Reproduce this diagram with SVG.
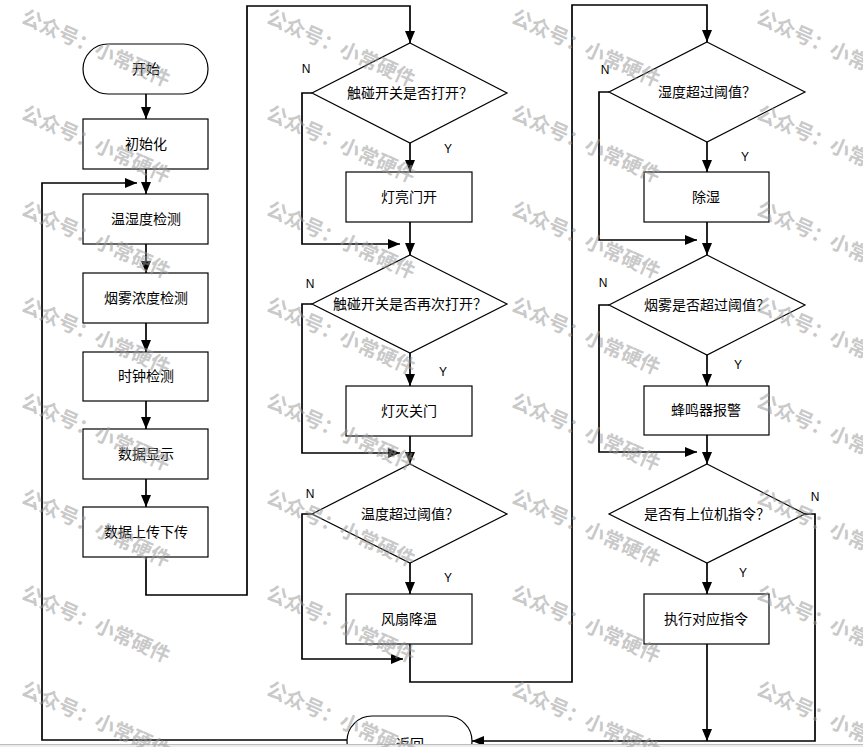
<svg xmlns="http://www.w3.org/2000/svg" width="863" height="747" viewBox="0 0 863 747">
<defs>
<marker id="ah" markerUnits="userSpaceOnUse" markerWidth="12" markerHeight="10" refX="12" refY="5" orient="auto">
<path d="M0,0 L12,5 L0,10 z" fill="#000"/>
</marker>
<style>
.box{fill:#fff;stroke:#000;stroke-width:1.2}
.t{font-family:"Noto Sans CJK SC","Liberation Sans",sans-serif;font-size:14px;fill:#000;text-anchor:middle}
.lbl{font-family:"Liberation Sans",Arial,sans-serif;font-size:12px;fill:#000;text-anchor:middle}
.c{fill:none;stroke:#000;stroke-width:1.7}
.a{marker-end:url(#ah)}
.wm{font-family:"Noto Sans CJK SC",sans-serif;font-size:20px;font-weight:bold;fill:#9a9a9a;fill-opacity:0.55}
</style>
</defs>
<rect width="863" height="747" fill="#fff"/>

<g id="connectors">
<path class="c a" d="M146,94 V119"/>
<path class="c a" d="M146,169 V194"/>
<path class="c a" d="M146,244 V273"/>
<path class="c a" d="M146,323 V352"/>
<path class="c a" d="M146,401 V429"/>
<path class="c a" d="M146,479 V507"/>
<path class="c a" d="M146,557 V595 H247 V6 H410 V43"/>
<path class="c a" d="M410,143 V172"/>
<path class="c a" d="M312,93 H302 V244 H400"/>
<path class="c a" d="M410,222 V255"/>
<path class="c a" d="M410,353 V386"/>
<path class="c a" d="M312,304 H302 V453 H400"/>
<path class="c a" d="M410,436 V464"/>
<path class="c a" d="M410,563 V594"/>
<path class="c a" d="M312,514 H302 V659 H403"/>
<path class="c a" d="M410,644 V682 H572 V5 H707 V42"/>
<path class="c a" d="M707,142 V172"/>
<path class="c a" d="M609,92 H599 V240 H697"/>
<path class="c a" d="M707,222 V255"/>
<path class="c a" d="M707,355 V386"/>
<path class="c a" d="M609,305 H599 V452 H697"/>
<path class="c a" d="M707,435 V464"/>
<path class="c a" d="M707,563 V594"/>
<path class="c a" d="M805,514 H815 V741 H472"/>
<path class="c a" d="M707,644 V741"/>
<path class="c a" d="M347,740 H42 V183 H137"/>
</g>

<g id="start"><rect class="box" x="83" y="44" width="125" height="50" rx="25"/><text class="t" x="146" y="74">开始</text></g>
<g id="init"><rect class="box" x="83" y="119" width="125" height="50"/><text class="t" x="146" y="149">初始化</text></g>
<g id="temphum"><rect class="box" x="83" y="194" width="125" height="50"/><text class="t" x="146" y="224">温湿度检测</text></g>
<g id="smoke"><rect class="box" x="83" y="273" width="125" height="50"/><text class="t" x="146" y="303">烟雾浓度检测</text></g>
<g id="clock"><rect class="box" x="83" y="352" width="125" height="49"/><text class="t" x="146" y="381">时钟检测</text></g>
<g id="display"><rect class="box" x="83" y="429" width="125" height="50"/><text class="t" x="146" y="459">数据显示</text></g>
<g id="upload"><rect class="box" x="83" y="507" width="125" height="50"/><text class="t" x="146" y="537">数据上传下传</text></g>

<g id="d1"><path class="box" d="M410,43 L507,93 L410,143 L312,93 z"/><text class="t" x="410" y="98">触碰开关是否打开？</text></g>
<g id="lighton"><rect class="box" x="346" y="172" width="126" height="50"/><text class="t" x="409" y="202">灯亮门开</text></g>
<g id="d2"><path class="box" d="M410,255 L507,304 L410,353 L312,304 z"/><text class="t" x="410" y="309">触碰开关是否再次打开？</text></g>
<g id="lightoff"><rect class="box" x="346" y="386" width="126" height="50"/><text class="t" x="409" y="416">灯灭关门</text></g>
<g id="d3"><path class="box" d="M410,464 L507,514 L410,563 L312,514 z"/><text class="t" x="410" y="519">温度超过阈值？</text></g>
<g id="fan"><rect class="box" x="346" y="594" width="126" height="50"/><text class="t" x="409" y="624">风扇降温</text></g>

<g id="d4"><path class="box" d="M707,42 L805,92 L707,142 L609,92 z"/><text class="t" x="707" y="97">湿度超过阈值？</text></g>
<g id="dehum"><rect class="box" x="644" y="172" width="125" height="50"/><text class="t" x="706" y="202">除湿</text></g>
<g id="d5"><path class="box" d="M707,255 L805,305 L707,355 L609,305 z"/><text class="t" x="707" y="310">烟雾是否超过阈值？</text></g>
<g id="buzzer"><rect class="box" x="644" y="386" width="125" height="49"/><text class="t" x="706" y="415">蜂鸣器报警</text></g>
<g id="d6"><path class="box" d="M707,464 L805,514 L707,563 L609,514 z"/><text class="t" x="707" y="519">是否有上位机指令？</text></g>
<g id="exec"><rect class="box" x="644" y="594" width="125" height="50"/><text class="t" x="706" y="624">执行对应指令</text></g>

<g id="return"><rect class="box" x="347" y="716" width="125" height="50" rx="25"/><text class="t" x="410" y="749">返回</text></g>

<g id="labels">
<text class="lbl" x="306" y="73">N</text>
<text class="lbl" x="448" y="153">Y</text>
<text class="lbl" x="310" y="288">N</text>
<text class="lbl" x="443" y="376">Y</text>
<text class="lbl" x="310" y="498">N</text>
<text class="lbl" x="448" y="582">Y</text>
<text class="lbl" x="605" y="74">N</text>
<text class="lbl" x="745" y="161">Y</text>
<text class="lbl" x="603" y="287">N</text>
<text class="lbl" x="738" y="369">Y</text>
<text class="lbl" x="815" y="501">N</text>
<text class="lbl" x="743" y="577">Y</text>
</g>

<rect x="0" y="744" width="863" height="3" fill="#ececec"/>
<line x1="0" y1="744.5" x2="863" y2="744.5" stroke="#bdbdbd" stroke-width="1"/>

<g id="watermark">
<text class="wm" transform="translate(20,22) rotate(24)">公众号：小常硬件</text>
<text class="wm" transform="translate(20,118) rotate(24)">公众号：小常硬件</text>
<text class="wm" transform="translate(20,214) rotate(24)">公众号：小常硬件</text>
<text class="wm" transform="translate(20,310) rotate(24)">公众号：小常硬件</text>
<text class="wm" transform="translate(20,406) rotate(24)">公众号：小常硬件</text>
<text class="wm" transform="translate(20,502) rotate(24)">公众号：小常硬件</text>
<text class="wm" transform="translate(20,598) rotate(24)">公众号：小常硬件</text>
<text class="wm" transform="translate(20,694) rotate(24)">公众号：小常硬件</text>
<text class="wm" transform="translate(265,22) rotate(24)">公众号：小常硬件</text>
<text class="wm" transform="translate(265,118) rotate(24)">公众号：小常硬件</text>
<text class="wm" transform="translate(265,214) rotate(24)">公众号：小常硬件</text>
<text class="wm" transform="translate(265,310) rotate(24)">公众号：小常硬件</text>
<text class="wm" transform="translate(265,406) rotate(24)">公众号：小常硬件</text>
<text class="wm" transform="translate(265,502) rotate(24)">公众号：小常硬件</text>
<text class="wm" transform="translate(265,598) rotate(24)">公众号：小常硬件</text>
<text class="wm" transform="translate(265,694) rotate(24)">公众号：小常硬件</text>
<text class="wm" transform="translate(510,22) rotate(24)">公众号：小常硬件</text>
<text class="wm" transform="translate(510,118) rotate(24)">公众号：小常硬件</text>
<text class="wm" transform="translate(510,214) rotate(24)">公众号：小常硬件</text>
<text class="wm" transform="translate(510,310) rotate(24)">公众号：小常硬件</text>
<text class="wm" transform="translate(510,406) rotate(24)">公众号：小常硬件</text>
<text class="wm" transform="translate(510,502) rotate(24)">公众号：小常硬件</text>
<text class="wm" transform="translate(510,598) rotate(24)">公众号：小常硬件</text>
<text class="wm" transform="translate(510,694) rotate(24)">公众号：小常硬件</text>
<text class="wm" transform="translate(755,22) rotate(24)">公众号：小常硬件</text>
<text class="wm" transform="translate(755,118) rotate(24)">公众号：小常硬件</text>
<text class="wm" transform="translate(755,214) rotate(24)">公众号：小常硬件</text>
<text class="wm" transform="translate(755,310) rotate(24)">公众号：小常硬件</text>
<text class="wm" transform="translate(755,406) rotate(24)">公众号：小常硬件</text>
<text class="wm" transform="translate(755,502) rotate(24)">公众号：小常硬件</text>
<text class="wm" transform="translate(755,598) rotate(24)">公众号：小常硬件</text>
<text class="wm" transform="translate(755,694) rotate(24)">公众号：小常硬件</text>
</g>
</svg>
